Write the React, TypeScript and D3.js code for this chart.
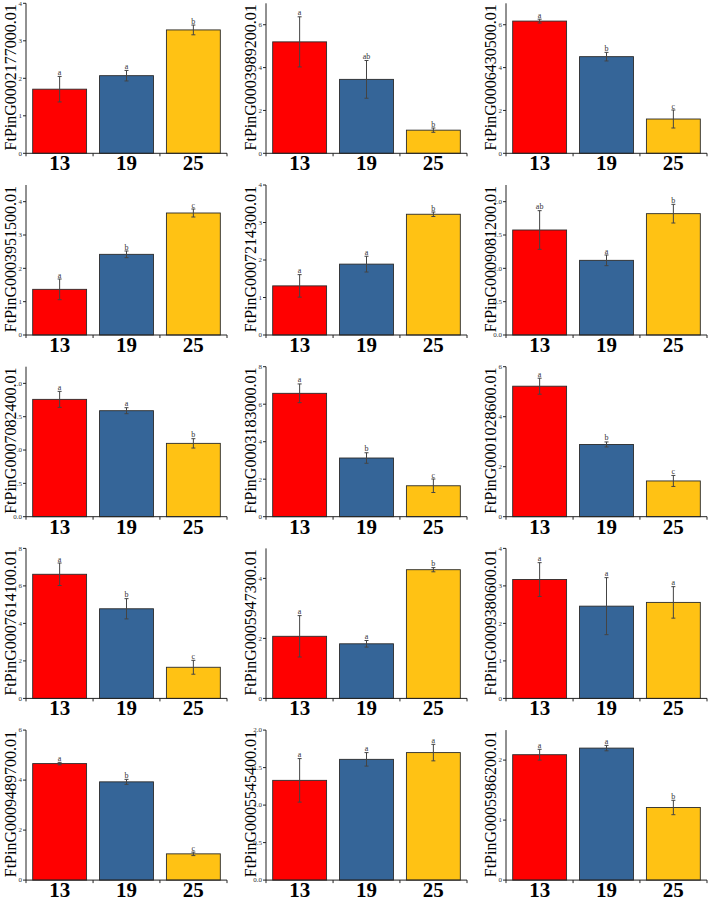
import React from 'react';
import * as d3 from 'd3';

const genes = [
  'FtPinG0002177000.01', 'FtPinG0003989200.01', 'FtPinG0006430500.01',
  'FtPinG0003951500.01', 'FtPinG0007214300.01', 'FtPinG0009081200.01',
  'FtPinG0007082400.01', 'FtPinG0003183000.01', 'FtPinG0001028600.01',
  'FtPinG0007614100.01', 'FtPinG0005947300.01', 'FtPinG0009380600.01',
  'FtPinG0009489700.01', 'FtPinG0005545400.01', 'FtPinG0005986200.01',
];
const temps = ['13', '19', '25'];
const mean13 = [1.71, 5.2, 6.17, 1.37, 1.31, 1.575, 1.76, 6.58, 5.22, 6.62, 2.07, 3.17, 4.66, 1.33, 2.09];
const mean19 = [2.07, 3.45, 4.51, 2.42, 1.89, 1.12, 1.59, 3.13, 2.89, 4.78, 1.82, 2.46, 3.93, 1.61, 2.2];
const mean25 = [3.29, 1.08, 1.6, 3.66, 3.22, 1.82, 1.1, 1.65, 1.43, 1.66, 4.29, 2.56, 1.05, 1.7, 1.21];
const err13 = [0.34, 1.17, 0.09, 0.31, 0.3, 0.29, 0.12, 0.5, 0.32, 0.6, 0.69, 0.45, 0.05, 0.29, 0.09];
const err19 = [0.14, 0.88, 0.2, 0.1, 0.21, 0.08, 0.045, 0.28, 0.1, 0.54, 0.11, 0.76, 0.1, 0.09, 0.045];
const err25 = [0.13, 0.1, 0.42, 0.12, 0.06, 0.14, 0.07, 0.36, 0.22, 0.37, 0.07, 0.42, 0.07, 0.11, 0.12];
const letters13 = ['a', 'a', 'a', 'a', 'a', 'ab', 'a', 'a', 'a', 'a', 'a', 'a', 'a', 'a', 'a'];
const letters19 = ['a', 'ab', 'b', 'b', 'a', 'a', 'a', 'b', 'b', 'b', 'a', 'a', 'b', 'a', 'a'];
const letters25 = ['b', 'b', 'c', 'c', 'b', 'b', 'b', 'c', 'c', 'c', 'b', 'a', 'c', 'a', 'b'];
const yMax = [4, 7, 7, 4.5, 4, 2.25, 2.25, 8, 6, 8, 5, 4, 6, 2, 2.5];
const yTicks = [
  [0, 1, 2, 3, 4], [0, 2, 4, 6], [0, 2, 4, 6],
  [0, 1, 2, 3, 4], [0, 1, 2, 3, 4], [0, 0.5, 1, 1.5, 2],
  [0, 0.5, 1, 1.5, 2], [0, 2, 4, 6, 8], [0, 2, 4, 6],
  [0, 2, 4, 6, 8], [0, 2, 4], [0, 1, 2, 3, 4],
  [0, 2, 4, 6], [0, 0.5, 1, 1.5, 2], [0, 1, 2],
];
const yTickLabels = [
  ['0', '1', '2', '3', '4'], ['0', '2', '4', '6'], ['0', '2', '4', '6'],
  ['0', '1', '2', '3', '4'], ['0', '1', '2', '3', '4'], ['0.0', '0.5', '1.0', '1.5', '2.0'],
  ['0.0', '.5', '.0', '.5', '.0'], ['0', '2', '4', '6', '8'], ['0', '2', '4', '6'],
  ['0', '2', '4', '6', '8'], ['0', '2', '4'], ['0', '1', '2', '3', '4'],
  ['0', '2', '4', '6'], ['0.0', '0.5', '1.0', '1.5', '2.0'], ['0', '1', '2'],
];
const colors = ['#FF0000', '#356598', '#FFC214'];

const W = 709;
const H = 902;
const colX = [26, 266, 506];
const rowTop0 = 3.3;
const rowStep = 181.7;
const plotW = 201;
const plotH = 150;

function Panel({ i }: { i: number }) {
  const col = i % 3;
  const row = Math.floor(i / 3);
  const x0 = colX[col];
  const y0 = rowTop0 + row * rowStep;
  const x = d3.scaleBand<string>().domain(temps).range([x0, x0 + plotW]).paddingInner(0.194).paddingOuter(0.1);
  const y = d3.scaleLinear().domain([0, yMax[i]]).range([y0 + plotH, y0]);
  const means = [mean13[i], mean19[i], mean25[i]];
  const errs = [err13[i], err19[i], err25[i]];
  const lets = [letters13[i], letters19[i], letters25[i]];
  const base = y(0);
  const step = x.step();
  const bounds = [x0, ...temps.slice(1).map((t) => (x(t) as number) - (step - x.bandwidth()) / 2), x0 + plotW];
  return (
    <g>
      {temps.map((t, k) => {
        const bx = x(t) as number;
        const bw = x.bandwidth();
        const top = y(means[k]);
        const cx = bx + bw / 2;
        const eTop = y(means[k] + errs[k]);
        const eBot = y(means[k] - errs[k]);
        return (
          <g key={t}>
            <rect x={bx} y={top} width={bw} height={base - top} fill={colors[k]} stroke="#2b2b2b" strokeWidth={0.9} />
            <line x1={cx} x2={cx} y1={eTop} y2={eBot} stroke="#444" strokeWidth={1} />
            <line x1={cx - 2} x2={cx + 2} y1={eTop} y2={eTop} stroke="#444" strokeWidth={1} />
            <line x1={cx - 2} x2={cx + 2} y1={eBot} y2={eBot} stroke="#444" strokeWidth={1} />
            <text x={cx} y={eTop - 1.5} textAnchor="middle" fontFamily="'Liberation Serif', serif" fontSize={8} fill="#333">{lets[k]}</text>
            <text x={cx} y={base + 17} textAnchor="middle" fontFamily="'Liberation Serif', serif" fontWeight="bold" fontSize={21} fill="#000">{t}</text>
          </g>
        );
      })}
      <line x1={x0} x2={x0} y1={y0} y2={base} stroke="#222" strokeWidth={1} />
      <line x1={x0} x2={x0 + plotW} y1={base} y2={base} stroke="#222" strokeWidth={1} />
      {bounds.map((b, k) => (
        <line key={'xt' + k} x1={b} x2={b} y1={base} y2={base + 3} stroke="#222" strokeWidth={1} />
      ))}
      {yTicks[i].map((v, k) => (
        <g key={'yt' + k}>
          <line x1={x0 - 3} x2={x0} y1={y(v)} y2={y(v)} stroke="#222" strokeWidth={1} />
          <text x={x0 - 4} y={y(v) + 2.3} textAnchor="end" fontFamily="'Liberation Serif', serif" fontSize={7} fill="#333">{yTickLabels[i][k]}</text>
        </g>
      ))}
      <text
        transform={`translate(${x0 - 10},${y0 + plotH / 2 - 1}) rotate(-90)`}
        textAnchor="middle"
        fontFamily="'Liberation Serif', serif"
        fontSize={16}
        fill="#000"
      >
        {genes[i]}
      </text>
    </g>
  );
}

export default function App() {
  return (
    <svg width={W} height={H} style={{ position: 'absolute', left: 0, top: 0, background: '#fff' }}>
      <rect x={0} y={0} width={W} height={H} fill="#fff" />
      {genes.map((g, i) => (
        <Panel key={g} i={i} />
      ))}
    </svg>
  );
}
